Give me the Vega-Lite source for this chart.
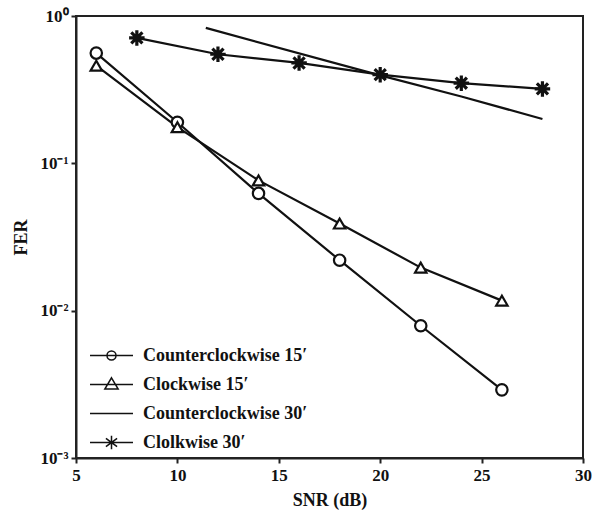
{
  "$schema": "https://vega.github.io/schema/vega-lite/v6.json",
  "width": 507,
  "height": 442,
  "autosize": {"type": "none"},
  "padding": {"left": 76, "top": 16, "right": 14, "bottom": 59},
  "background": "white",
  "config": {
    "view": {"stroke": "#222", "strokeWidth": 2},
    "font": "Liberation Serif",
    "axis": {
      "grid": false,
      "domainColor": "#222",
      "domainWidth": 2,
      "tickColor": "#222",
      "tickWidth": 2,
      "tickSize": 5,
      "labelFont": "Liberation Serif",
      "labelFontSize": 17,
      "labelFontWeight": "bold",
      "labelColor": "#111",
      "titleFont": "Liberation Serif",
      "titleFontSize": 18,
      "titleFontWeight": "bold",
      "titleColor": "#111"
    }
  },
  "data": {
    "values": [
      {"series": "Counterclockwise 15′", "snr": 6, "fer": 0.56},
      {"series": "Counterclockwise 15′", "snr": 10, "fer": 0.19},
      {"series": "Counterclockwise 15′", "snr": 14, "fer": 0.0625},
      {"series": "Counterclockwise 15′", "snr": 18, "fer": 0.022},
      {"series": "Counterclockwise 15′", "snr": 22, "fer": 0.0079},
      {"series": "Counterclockwise 15′", "snr": 26, "fer": 0.0029},
      {"series": "Clockwise 15′", "snr": 6, "fer": 0.46},
      {"series": "Clockwise 15′", "snr": 10, "fer": 0.176},
      {"series": "Clockwise 15′", "snr": 14, "fer": 0.0766},
      {"series": "Clockwise 15′", "snr": 18, "fer": 0.039},
      {"series": "Clockwise 15′", "snr": 22, "fer": 0.0196},
      {"series": "Clockwise 15′", "snr": 26, "fer": 0.0117},
      {"series": "Counterclockwise 30′", "snr": 11.4, "fer": 0.83},
      {"series": "Counterclockwise 30′", "snr": 20, "fer": 0.395},
      {"series": "Counterclockwise 30′", "snr": 24, "fer": 0.284},
      {"series": "Counterclockwise 30′", "snr": 28, "fer": 0.2},
      {"series": "Clolkwise 30′", "snr": 8, "fer": 0.71},
      {"series": "Clolkwise 30′", "snr": 12, "fer": 0.55},
      {"series": "Clolkwise 30′", "snr": 16, "fer": 0.48},
      {"series": "Clolkwise 30′", "snr": 20, "fer": 0.40},
      {"series": "Clolkwise 30′", "snr": 24, "fer": 0.35},
      {"series": "Clolkwise 30′", "snr": 28, "fer": 0.32}
    ]
  },
  "encoding": {
    "x": {
      "field": "snr",
      "type": "quantitative",
      "scale": {"domain": [5, 30], "nice": false, "zero": false},
      "axis": {"values": [5, 10, 15, 20, 25, 30], "title": "SNR (dB)", "labelPadding": 4, "titlePadding": 8, "labelFlush": false}
    },
    "y": {
      "field": "fer",
      "type": "quantitative",
      "scale": {"type": "log", "domain": [0.001, 1], "nice": false},
      "axis": {
        "values": [1, 0.1, 0.01, 0.001],
        "labelExpr": "datum.value > 0.5 ? '10⁰' : datum.value > 0.05 ? '10⁻¹' : datum.value > 0.005 ? '10⁻²' : '10⁻³'",
        "title": "FER",
        "labelPadding": 3,
        "titlePadding": 9,
        "labelFlush": false
      }
    }
  },
  "layer": [
    {
      "mark": {"type": "line", "color": "#111", "strokeWidth": 2.2},
      "encoding": {"detail": {"field": "series"}}
    },
    {
      "transform": [{"filter": "datum.series == 'Counterclockwise 15′' || datum.series == 'Clockwise 15′'"}],
      "mark": {"type": "point", "filled": true, "fill": "white", "stroke": "#111", "strokeWidth": 2.2, "opacity": 1},
      "encoding": {
        "shape": {
          "field": "series",
          "type": "nominal",
          "scale": {
            "domain": ["Counterclockwise 15′", "Clockwise 15′", "Clolkwise 30′"],
            "range": ["circle", "triangle-up", "M0,-1L0,1M-1,0L1,0M-0.72,-0.72L0.72,0.72M-0.72,0.72L0.72,-0.72"]
          },
          "legend": null
        },
        "size": {"value": 130}
      }
    },
    {
      "transform": [{"filter": "datum.series == 'Clolkwise 30′'"}],
      "mark": {"type": "point", "filled": false, "stroke": "#111", "strokeWidth": 3.2, "opacity": 1, "size": 240, "shape": "M0,-1L0,1M-1,0L1,0M-0.72,-0.72L0.72,0.72M-0.72,0.72L0.72,-0.72"},
      "encoding": {}
    },
    {
      "mark": {"type": "point", "opacity": 0, "color": "#111"},
      "encoding": {
        "shape": {
          "field": "series",
          "type": "nominal",
          "scale": {
            "domain": ["Counterclockwise 15′", "Clockwise 15′", "Counterclockwise 30′", "Clolkwise 30′"],
            "range": [
              "M-2,0L2,0M0.42,0A0.42,0.42 0 1,1 -0.42,0A0.42,0.42 0 1,1 0.42,0Z",
              "M-2,0L2,0M0,-0.62L0.62,0.42L-0.62,0.42Z",
              "M-2,0L2,0",
              "M-2,0L2,0M0,-0.62L0,0.62M-0.52,-0.38L0.52,0.38M-0.52,0.38L0.52,-0.38"
            ]
          },
          "legend": {
            "title": null,
            "orient": "none",
            "legendX": 24,
            "legendY": 328,
            "padding": 0,
            "rowPadding": 8,
            "labelOffset": 20,
            "symbolSize": 462,
            "labelFont": "Liberation Serif",
            "labelFontSize": 18,
            "labelFontWeight": "bold",
            "labelColor": "#111",
            "labelLimit": 400,
            "encode": {
              "symbols": {
                "update": {
                  "fill": {"value": "white"},
                  "stroke": {"value": "#111"},
                  "strokeWidth": {"value": 2.2},
                  "opacity": {"value": 1}
                }
              }
            }
          }
        }
      }
    }
  ],
  "resolve": {"scale": {"shape": "independent"}}
}
